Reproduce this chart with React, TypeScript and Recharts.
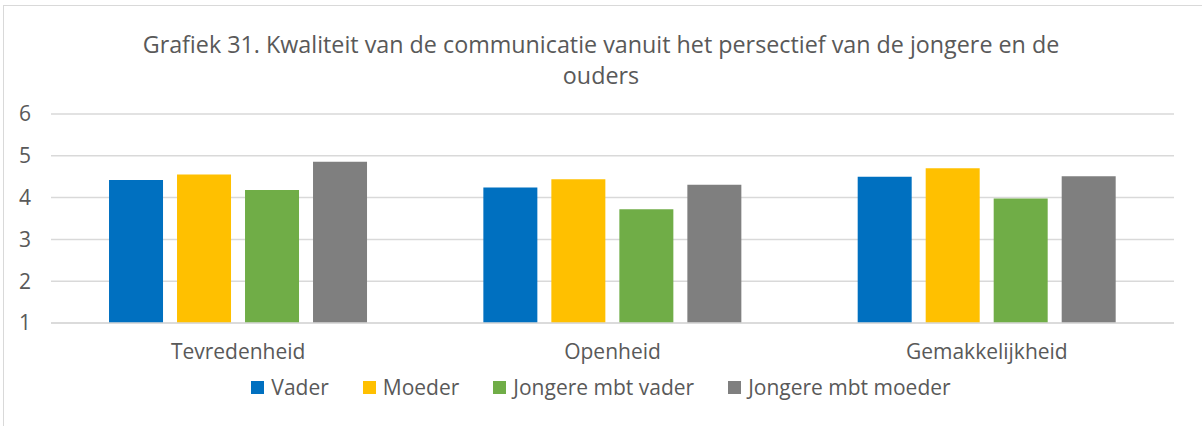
import React from 'react';
import { BarChart, Bar, XAxis, YAxis, CartesianGrid } from 'recharts';

const categories = ['Tevredenheid', 'Openheid', 'Gemakkelijkheid'];
const vader = [4.42, 4.24, 4.5];
const moeder = [4.55, 4.44, 4.7];
const jongereVader = [4.18, 3.72, 3.98];
const jongereMoeder = [4.86, 4.31, 4.51];
const yTicks = [1, 2, 3, 4, 5, 6];

const series = [
  { key: 'vader', name: 'Vader', color: '#0070C0' },
  { key: 'moeder', name: 'Moeder', color: '#FFC000' },
  { key: 'jongereVader', name: 'Jongere mbt vader', color: '#70AD47' },
  { key: 'jongereMoeder', name: 'Jongere mbt moeder', color: '#7F7F7F' },
];

const data = categories.map((c, i) => ({
  name: c,
  vader: vader[i],
  moeder: moeder[i],
  jongereVader: jongereVader[i],
  jongereMoeder: jongereMoeder[i],
}));

const FONT = '"Open Sans", sans-serif';
const TEXT = '#595959';

export default function App() {
  return (
    <div style={{ position: 'fixed', left: 0, top: 0, width: 1202, height: 426, background: '#fff', overflow: 'hidden' }}>
      <div style={{ position: 'absolute', left: 3, top: 5, width: 1220, height: 440, borderLeft: '1px solid #d9d9d9', borderTop: '1px solid #d9d9d9' }} />
      <div style={{ position: 'absolute', left: 0, top: 29, width: 1202, textAlign: 'center', fontFamily: FONT, fontSize: 23.3, color: TEXT, lineHeight: '31px' }}>
        Grafiek 31. Kwaliteit van de communicatie vanuit het persectief van de jongere en de
        <br />
        ouders
      </div>
      <div style={{ position: 'absolute', left: 0, top: 0 }}>
        <BarChart width={1202} height={426} data={data} margin={{ top: 114, right: 28, left: 11, bottom: 73 }}
          barCategoryGap="15.5%" barGap={14}>
          <CartesianGrid vertical={false} stroke="#d9d9d9" strokeWidth={1.5} />
          <XAxis dataKey="name" height={30} tickLine={false} axisLine={{ stroke: '#d9d9d9', strokeWidth: 1.5 }}
            tick={{ fill: TEXT, fontSize: 21, fontFamily: FONT }} tickMargin={15} />
          <YAxis domain={[1, 6]} ticks={yTicks} width={40} tickLine={false} axisLine={false}
            tick={{ fill: TEXT, fontSize: 21, fontFamily: FONT, textAnchor: 'start' }} dx={-24} />
          {series.map((s) => (
            <Bar key={s.key} dataKey={s.key} name={s.name} fill={s.color} isAnimationActive={false} />
          ))}
        </BarChart>
      </div>
      <div style={{ position: 'absolute', left: 0, top: 372, width: 1202, display: 'flex', justifyContent: 'center', gap: 34, fontFamily: FONT, fontSize: 21, color: TEXT, lineHeight: '30px' }}>
        {series.map((s) => (
          <div key={s.key} style={{ display: 'flex', alignItems: 'center', gap: 7 }}>
            <span style={{ width: 13, height: 13, background: s.color, display: 'inline-block' }} />
            <span>{s.name}</span>
          </div>
        ))}
      </div>
    </div>
  );
}
